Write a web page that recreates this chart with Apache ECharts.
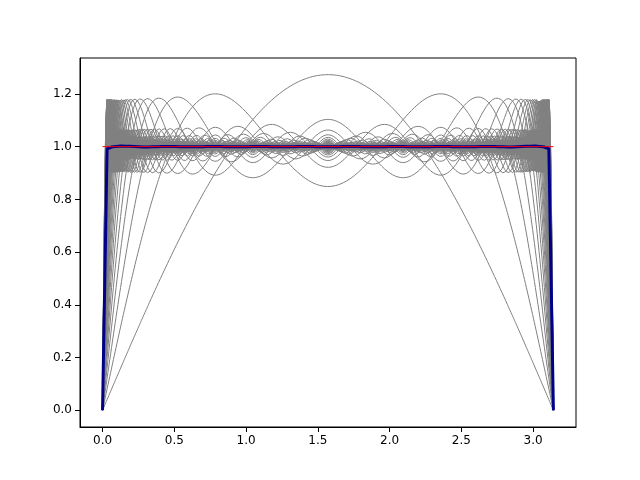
<!DOCTYPE html>
<html>
<head>
<meta charset="utf-8">
<script src="https://cdn.jsdelivr.net/npm/echarts@6/dist/echarts.min.js"></script>
<style>html,body{margin:0;padding:0;background:#fff}</style>
</head>
<body>
<div id="chart" style="width:640px;height:480px"></div>
<script>
// partial sums of the square-wave Fourier series, 4/pi * sum sin(kx)/k over odd k
const harmonicCounts = [];
for (let n = 1; n <= 50; n++) harmonicCounts.push(n); // odd terms per gray curve
const finalHarmonics = 1000; // terms in the thick blue curve
const sampleCount = 500;
const coarseCount = 100;
const xTicks = [0, 0.5, 1.0, 1.5, 2.0, 2.5, 3.0];
const yTicks = [0, 0.2, 0.4, 0.6, 0.8, 1.0, 1.2];
const targetLevel = 1;

function grid(n) {
  const a = [];
  for (let i = 0; i < n; i++) a.push(Math.PI * i / (n - 1));
  return a;
}
function partialSum(n, x) {
  let s = 0;
  for (let j = 0; j < n; j++) { const k = 2 * j + 1; s += Math.sin(k * x) / k; }
  return 4 / Math.PI * s;
}

const xs = grid(sampleCount);
const series = harmonicCounts.map(n => ({
  type: 'line', data: xs.map(x => [x, partialSum(n, x)]), showSymbol: false, silent: true,
  lineStyle: { color: 'gray', width: 1 }
}));
series.push({ type: 'line', data: grid(coarseCount).map(x => [x, partialSum(finalHarmonics, x)]),
  showSymbol: false, lineStyle: { color: '#00008b', width: 3, join: 'miter' } });
series.push({ type: 'line', data: [[0, targetLevel], [Math.PI, targetLevel]], showSymbol: false,
  lineStyle: { color: 'red', width: 1 } });

const myChart = echarts.init(document.getElementById('chart'));
myChart.setOption({
  animation: false,
  grid: { left: 80, right: 64, top: 58, bottom: 53 },
  xAxis: {
    type: 'value', min: -0.157, max: 3.299, splitLine: { show: false },
    axisLine: { onZero: false, lineStyle: { color: '#000' } },
    axisTick: { customValues: xTicks, lineStyle: { color: '#000' } },
    axisLabel: { customValues: xTicks, color: '#000', fontSize: 12, fontFamily: 'DejaVu Sans',
      formatter: v => v.toFixed(1) }
  },
  yAxis: {
    type: 'value', min: -0.0636, max: 1.3364, splitLine: { show: false },
    axisLine: { show: true, onZero: false, lineStyle: { color: '#000' } },
    axisTick: { show: true, customValues: yTicks, lineStyle: { color: '#000' } },
    axisLabel: { customValues: yTicks, color: '#000', fontSize: 12, fontFamily: 'DejaVu Sans',
      formatter: v => v.toFixed(1) }
  },
  graphic: [{ type: 'rect', shape: { x: 80, y: 58, width: 496, height: 369 },
    style: { fill: null, stroke: '#000', lineWidth: 1 }, silent: true }],
  series
});
</script>
</body>
</html>
